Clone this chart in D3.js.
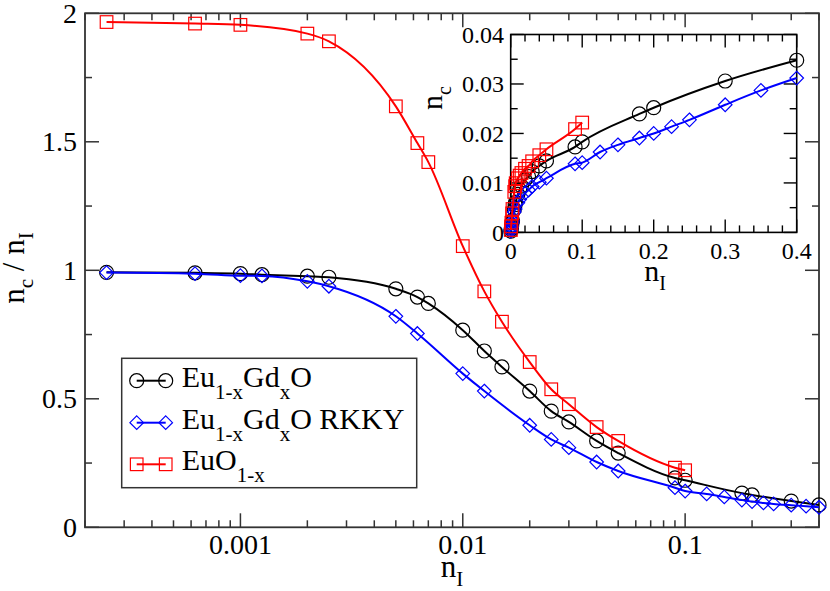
<!DOCTYPE html>
<html><head><meta charset="utf-8">
<script src="https://cdn.jsdelivr.net/npm/d3@7"></script>
<style>
body{margin:0;background:#fff}
svg{display:block}
</style>
</head><body>
<svg id="chart" width="830" height="591" font-family="'Liberation Serif', 'DejaVu Serif', serif"></svg>
<script>
// ---------- data ----------
const seriesNames = ["Eu1-xGdxO", "Eu1-xGdxO RKKY", "EuO1-x"];

// n_I values and n_c / n_I ratios
const gdX     = [0.00025, 0.000625, 0.001, 0.00125, 0.002, 0.0025, 0.005, 0.00625, 0.007, 0.01, 0.0125, 0.015, 0.02, 0.025, 0.03, 0.04, 0.05, 0.09, 0.1, 0.18, 0.2, 0.3, 0.4];
const gdRatio = [0.992, 0.990, 0.987, 0.983, 0.977, 0.973, 0.928, 0.896, 0.871, 0.767, 0.686, 0.624, 0.530, 0.452, 0.410, 0.336, 0.289, 0.192, 0.183, 0.133, 0.126, 0.102, 0.087];

const rkkyX     = [0.00025, 0.000625, 0.001, 0.00125, 0.002, 0.0025, 0.005, 0.00625, 0.01, 0.0125, 0.02, 0.025, 0.03, 0.04, 0.05, 0.09, 0.1, 0.125, 0.15, 0.18, 0.2, 0.225, 0.25, 0.3, 0.35, 0.4];
const rkkyRatio = [0.991, 0.987, 0.979, 0.978, 0.957, 0.938, 0.821, 0.754, 0.598, 0.530, 0.397, 0.342, 0.310, 0.254, 0.219, 0.154, 0.141, 0.130, 0.118, 0.106, 0.100, 0.095, 0.091, 0.086, 0.082, 0.078];

const euoX     = [0.00025, 0.000625, 0.001, 0.002, 0.0025, 0.005, 0.00625, 0.007, 0.01, 0.0125, 0.015, 0.02, 0.025, 0.03, 0.04, 0.05, 0.09, 0.1];
const euoRatio = [1.966, 1.960, 1.955, 1.921, 1.891, 1.638, 1.495, 1.421, 1.094, 0.918, 0.800, 0.643, 0.537, 0.479, 0.390, 0.336, 0.232, 0.222];

// tick values and labels
const mainXTicks = [0.001, 0.01, 0.1];
const mainXTickLabels = ["0.001", "0.01", "0.1"];
const mainYTicks = [0, 0.5, 1, 1.5, 2];
const mainYTickLabels = ["0", "0.5", "1", "1.5", "2"];
const insetXTicks = [0, 0.1, 0.2, 0.3, 0.4];
const insetXTickLabels = ["0", "0.1", "0.2", "0.3", "0.4"];
const insetYTicks = [0, 0.01, 0.02, 0.03, 0.04];
const insetYTickLabels = ["0", "0.01", "0.02", "0.03", "0.04"];

// ---------- build ----------
const svg = d3.select("#chart");
const series = [
  {name: seriesNames[0], xs: gdX, ys: gdRatio, color: "#000000", shape: "circle"},
  {name: seriesNames[1], xs: rkkyX, ys: rkkyRatio, color: "#0000ff", shape: "diamond"},
  {name: seriesNames[2], xs: euoX, ys: euoRatio, color: "#ff0000", shape: "square"}
].map(s => ({...s, pts: s.xs.map((x, i) => ({x: x, r: s.ys[i], nc: x * s.ys[i]}))}));

const M = {l: 85, r: 819, t: 13.3, b: 527.3};
const x = d3.scaleLog().domain([0.0002, 0.4]).range([M.l, M.r]);
const y = d3.scaleLinear().domain([0, 2]).range([M.b, M.t]);

const I = {l: 510.7, r: 796.7, t: 34.5, b: 232.4};
const xi = d3.scaleLinear().domain([0, 0.4]).range([I.l, I.r]);
const yi = d3.scaleLinear().domain([0, 0.04]).range([I.b, I.t]);

const frameColor = "#333";

function marker(g, shape, color, cx, cy) {
  if (shape === "circle") {
    g.append("circle").attr("cx", cx).attr("cy", cy).attr("r", 7)
      .attr("fill", "none").attr("stroke", color).attr("stroke-width", 1.2);
  } else if (shape === "square") {
    g.append("rect").attr("x", cx - 6.3).attr("y", cy - 6.3).attr("width", 12.6).attr("height", 12.6)
      .attr("fill", "none").attr("stroke", color).attr("stroke-width", 1.2);
  } else {
    const d = 6.8;
    g.append("path").attr("d", `M${cx},${cy - d}L${cx + d},${cy}L${cx},${cy + d}L${cx - d},${cy}Z`)
      .attr("fill", "none").attr("stroke", color).attr("stroke-width", 1.2);
  }
}

// ---------- main plot ----------
const main = svg.append("g");

const xMinor = [];
[1e-4, 1e-3, 1e-2, 1e-1].forEach(d => { for (let k = 2; k <= 9; k++) { const v = k * d; if (v >= 0.0002 && v <= 0.4) xMinor.push(v); } });
xMinor.forEach(v => {
  main.append("line").attr("x1", x(v)).attr("x2", x(v)).attr("y1", M.b).attr("y2", M.b - 7).attr("stroke", frameColor).attr("stroke-width", 1.5);
  main.append("line").attr("x1", x(v)).attr("x2", x(v)).attr("y1", M.t).attr("y2", M.t + 7).attr("stroke", frameColor).attr("stroke-width", 1.5);
});
mainXTicks.forEach((v, i) => {
  main.append("line").attr("x1", x(v)).attr("x2", x(v)).attr("y1", M.b).attr("y2", M.b - 14).attr("stroke", frameColor).attr("stroke-width", 1.5);
  main.append("line").attr("x1", x(v)).attr("x2", x(v)).attr("y1", M.t).attr("y2", M.t + 14).attr("stroke", frameColor).attr("stroke-width", 1.5);
  main.append("text").attr("x", x(v)).attr("y", 554).attr("text-anchor", "middle").attr("font-size", 28).text(mainXTickLabels[i]);
});
const yMinor = [0.25, 0.75, 1.25, 1.75];
yMinor.forEach(v => {
  main.append("line").attr("x1", M.l).attr("x2", M.l + 7).attr("y1", y(v)).attr("y2", y(v)).attr("stroke", frameColor).attr("stroke-width", 1.5);
  main.append("line").attr("x1", M.r).attr("x2", M.r - 7).attr("y1", y(v)).attr("y2", y(v)).attr("stroke", frameColor).attr("stroke-width", 1.5);
});
mainYTicks.forEach((v, i) => {
  main.append("line").attr("x1", M.l).attr("x2", M.l + 14).attr("y1", y(v)).attr("y2", y(v)).attr("stroke", frameColor).attr("stroke-width", 1.5);
  main.append("line").attr("x1", M.r).attr("x2", M.r - 14).attr("y1", y(v)).attr("y2", y(v)).attr("stroke", frameColor).attr("stroke-width", 1.5);
  main.append("text").attr("x", 77).attr("y", y(v)).attr("dy", "0.34em").attr("text-anchor", "end").attr("font-size", 28).text(mainYTickLabels[i]);
});
main.append("rect").attr("x", M.l).attr("y", M.t).attr("width", M.r - M.l).attr("height", M.b - M.t)
  .attr("fill", "none").attr("stroke", frameColor).attr("stroke-width", 1.8);

const xt = main.append("text").attr("x", 452).attr("y", 577).attr("text-anchor", "middle").attr("font-size", 31);
xt.append("tspan").text("n");
xt.append("tspan").attr("font-size", 21).attr("dy", 9).text("I");

const yt = main.append("text").attr("transform", "translate(23.5,268) rotate(-90)").attr("text-anchor", "middle").attr("font-size", 31);
yt.append("tspan").text("n");
yt.append("tspan").attr("font-size", 21).attr("dy", 9).text("c");
yt.append("tspan").attr("dy", -9).text(" / n");
yt.append("tspan").attr("font-size", 21).attr("dy", 9).text("I");

const lineMain = d3.line().x(d => x(d.x)).y(d => y(d.r)).curve(d3.curveMonotoneX);
series.forEach(s => {
  const g = main.append("g");
  g.append("path").attr("d", lineMain(s.pts)).attr("fill", "none").attr("stroke", s.color).attr("stroke-width", 2);
  s.pts.forEach(p => marker(g, s.shape, s.color, x(p.x), y(p.r)));
});

// legend
const L = main.append("g");
L.append("rect").attr("x", 121.7).attr("y", 358.3).attr("width", 295).attr("height", 129.4)
  .attr("fill", "#fff").attr("stroke", frameColor).attr("stroke-width", 1.5);
const rowY = [380.7, 422.7, 464.3];
series.forEach((s, i) => {
  const cy = rowY[i];
  L.append("line").attr("x1", 136.7).attr("x2", 165.7).attr("y1", cy).attr("y2", cy).attr("stroke", s.color).attr("stroke-width", 2);
  marker(L, s.shape, s.color, 136.7, cy);
  marker(L, s.shape, s.color, 165.7, cy);
  const t = L.append("text").attr("x", 181.7).attr("y", cy + 6).attr("font-size", 30);
  if (i < 2) {
    t.append("tspan").text("Eu");
    t.append("tspan").attr("font-size", 21).attr("dy", 12).text("1-x");
    t.append("tspan").attr("dy", -12).text("Gd");
    t.append("tspan").attr("font-size", 21).attr("dy", 12).text("x");
    t.append("tspan").attr("dy", -12).text(i === 0 ? "O" : "O RKKY");
  } else {
    t.append("tspan").text("EuO");
    t.append("tspan").attr("font-size", 21).attr("dy", 12).text("1-x");
  }
});

// ---------- inset ----------
const ins = svg.append("g");
ins.append("rect").attr("x", I.l).attr("y", I.t).attr("width", I.r - I.l).attr("height", I.b - I.t).attr("fill", "#fff");
const ixMinor = d3.range(0.02, 0.4, 0.02).filter(v => Math.abs(v * 10 - Math.round(v * 10)) > 1e-6);
ixMinor.forEach(v => {
  ins.append("line").attr("x1", xi(v)).attr("x2", xi(v)).attr("y1", I.b).attr("y2", I.b - 7).attr("stroke", "#000").attr("stroke-width", 1.4);
  ins.append("line").attr("x1", xi(v)).attr("x2", xi(v)).attr("y1", I.t).attr("y2", I.t + 7).attr("stroke", "#000").attr("stroke-width", 1.4);
});
insetXTicks.forEach((v, i) => {
  ins.append("line").attr("x1", xi(v)).attr("x2", xi(v)).attr("y1", I.b).attr("y2", I.b - 13).attr("stroke", "#000").attr("stroke-width", 1.4);
  ins.append("line").attr("x1", xi(v)).attr("x2", xi(v)).attr("y1", I.t).attr("y2", I.t + 13).attr("stroke", "#000").attr("stroke-width", 1.4);
  ins.append("text").attr("x", xi(v)).attr("y", 258.5).attr("text-anchor", "middle").attr("font-size", 24).text(insetXTickLabels[i]);
});
[0.005, 0.015, 0.025, 0.035].forEach(v => {
  ins.append("line").attr("x1", I.l).attr("x2", I.l + 7).attr("y1", yi(v)).attr("y2", yi(v)).attr("stroke", "#000").attr("stroke-width", 1.4);
  ins.append("line").attr("x1", I.r).attr("x2", I.r - 7).attr("y1", yi(v)).attr("y2", yi(v)).attr("stroke", "#000").attr("stroke-width", 1.4);
});
insetYTicks.forEach((v, i) => {
  ins.append("line").attr("x1", I.l).attr("x2", I.l + 13).attr("y1", yi(v)).attr("y2", yi(v)).attr("stroke", "#000").attr("stroke-width", 1.4);
  ins.append("line").attr("x1", I.r).attr("x2", I.r - 13).attr("y1", yi(v)).attr("y2", yi(v)).attr("stroke", "#000").attr("stroke-width", 1.4);
  ins.append("text").attr("x", 504).attr("y", yi(v)).attr("dy", "0.34em").attr("text-anchor", "end").attr("font-size", 24).text(insetYTickLabels[i]);
});
ins.append("rect").attr("x", I.l).attr("y", I.t).attr("width", I.r - I.l).attr("height", I.b - I.t)
  .attr("fill", "none").attr("stroke", "#000").attr("stroke-width", 1.6);

const ixt = ins.append("text").attr("x", 655).attr("y", 281).attr("text-anchor", "middle").attr("font-size", 30);
ixt.append("tspan").text("n");
ixt.append("tspan").attr("font-size", 20).attr("dy", 9).text("I");
const iyt = ins.append("text").attr("transform", "translate(442,98) rotate(-90)").attr("text-anchor", "middle").attr("font-size", 30);
iyt.append("tspan").text("n");
iyt.append("tspan").attr("font-size", 20).attr("dy", 9).text("c");

const lineInset = d3.line().x(d => xi(d.x)).y(d => yi(d.nc)).curve(d3.curveMonotoneX);
series.forEach(s => {
  const g = ins.append("g");
  g.append("path").attr("d", lineInset(s.pts)).attr("fill", "none").attr("stroke", s.color).attr("stroke-width", 2);
  s.pts.forEach(p => marker(g, s.shape, s.color, xi(p.x), yi(p.nc)));
});
</script>
</body></html>
